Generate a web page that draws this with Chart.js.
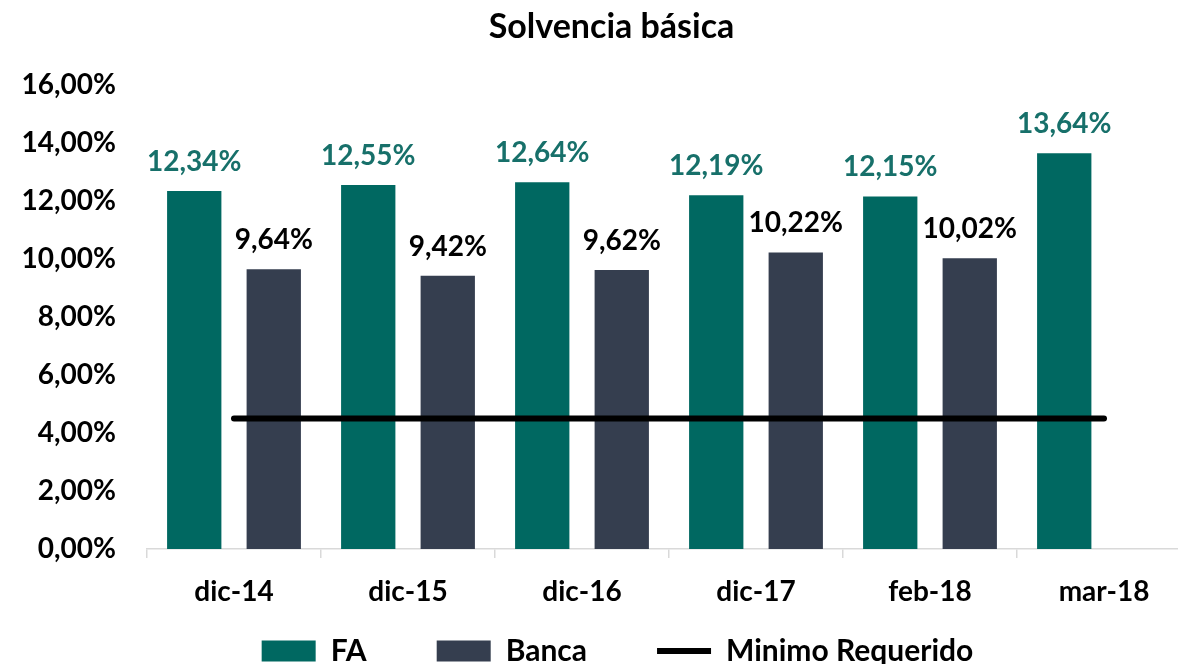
<!DOCTYPE html>
<html lang="es">
<head>
    <meta charset="UTF-8">
    <title>Solvencia básica</title>
    <script src="https://cdn.jsdelivr.net/npm/chart.js"></script>
    <style>
        body { margin: 0; overflow: hidden; background: #fff; }
    </style>
</head>
<body>
    <canvas id="solvenciaChart" width="1222" height="664"></canvas>

    <script>
        const periodos = ['dic-14', 'dic-15', 'dic-16', 'dic-17', 'feb-18', 'mar-18'];
        const fa = [12.34, 12.55, 12.64, 12.19, 12.15, 13.64];
        const banca = [9.64, 9.42, 9.62, 10.22, 10.02, null];
        const minimo = [4.5, 4.5, 4.5, 4.5, 4.5, 4.5];

        const TEAL = '#006861';
        const SLATE = '#353e4f';
        const FONT = 'Lato, Carlito, "Open Sans", sans-serif';

        function fmt(v, dec) {
            return v.toFixed(dec).replace('.', ',') + '%';
        }

        // etiquetas encima de las barras
        const etiquetas = {
            id: 'etiquetas',
            afterDatasetsDraw(chart) {
                const ctx = chart.ctx;
                ctx.save();
                ctx.font = 'bold 28px ' + FONT;
                ctx.textAlign = 'center';
                ctx.textBaseline = 'alphabetic';
                chart.data.datasets.forEach((ds, i) => {
                    if (ds.type === 'line') return;
                    const meta = chart.getDatasetMeta(i);
                    meta.data.forEach((bar, j) => {
                        const v = ds.data[j];
                        if (v === null) return;
                        ctx.fillStyle = ds.labelColor;
                        ctx.fillText(fmt(v, 2), bar.x, bar.y - 20);
                    });
                });
                ctx.restore();
            }
        };

        // desplaza titulo y leyenda un poco a la derecha
        const centrado = {
            id: 'centrado',
            afterLayout(chart) {
                const t = chart.titleBlock;
                if (t) { t.left += 16; t.right += 16; }
                const l = chart.legend;
                if (l) { l.left += 22; l.right += 22; }
            }
        };

        const ctx = document.getElementById('solvenciaChart').getContext('2d');
        new Chart(ctx, {
            type: 'bar',
            data: {
                labels: periodos,
                datasets: [
                    {
                        label: 'FA',
                        data: fa,
                        backgroundColor: TEAL,
                        labelColor: '#17706a',
                        pointStyle: 'rect',
                        order: 1,
                        categoryPercentage: 0.914,
                        barPercentage: 0.683
                    },
                    {
                        label: 'Banca',
                        data: banca,
                        backgroundColor: SLATE,
                        labelColor: '#000',
                        pointStyle: 'rect',
                        order: 1,
                        categoryPercentage: 0.914,
                        barPercentage: 0.683
                    },
                    {
                        type: 'line',
                        label: 'Minimo Requerido',
                        data: minimo,
                        borderColor: '#000',
                        backgroundColor: '#000',
                        borderWidth: 6,
                        borderCapStyle: 'round',
                        pointRadius: 0,
                        pointStyle: 'line',
                        order: 0
                    }
                ]
            },
            options: {
                responsive: false,
                animation: false,
                devicePixelRatio: 1,
                layout: { padding: { left: 0, right: 31, top: 0, bottom: -12 } },
                plugins: {
                    title: {
                        display: true,
                        text: 'Solvencia básica',
                        color: '#000',
                        font: { family: FONT, size: 34, weight: 'bold' },
                        padding: { top: 7, bottom: 37 }
                    },
                    legend: {
                        position: 'bottom',
                        labels: {
                            usePointStyle: true,
                            pointStyleWidth: 54,
                            boxHeight: 21,
                            padding: 10,
                            color: '#000',
                            font: { family: FONT, size: 30, weight: 'bold' },
                            generateLabels(chart) {
                                const items = Chart.defaults.plugins.legend.labels.generateLabels(chart);
                                items.sort((a, b) => a.datasetIndex - b.datasetIndex);
                                items.forEach((it, k) => {
                                    if (k < items.length - 1) it.text = it.text + '\u2003\u2003\u2002';
                                });
                                return items;
                            }
                        }
                    },
                    tooltip: { enabled: false }
                },
                scales: {
                    x: {
                        grid: {
                            display: true,
                            drawOnChartArea: false,
                            drawTicks: true,
                            tickLength: 9,
                            color: '#d9d9d9',
                            lineWidth: 1.5
                        },
                        border: { display: true, color: '#d9d9d9', width: 1.5 },
                        ticks: {
                            color: '#000',
                            padding: 17,
                            font: { family: FONT, size: 28, weight: 'bold' }
                        },
                        afterFit(scale) { scale.height = 77; }
                    },
                    y: {
                        min: 0,
                        max: 16,
                        grid: { display: false, drawTicks: false },
                        border: { display: false },
                        ticks: {
                            stepSize: 2,
                            padding: 31,
                            color: '#000',
                            font: { family: FONT, size: 28, weight: 'bold' },
                            callback: v => fmt(v, 2)
                        },
                        afterFit(scale) { scale.width = 147; }
                    }
                }
            },
            plugins: [etiquetas, centrado]
        });
    </script>
</body>
</html>
